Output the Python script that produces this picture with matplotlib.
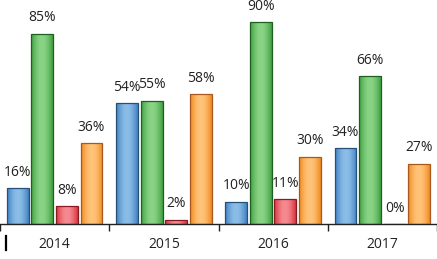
import matplotlib
matplotlib.use("Agg")
import matplotlib.pyplot as plt
import numpy as np
from matplotlib.colors import LinearSegmentedColormap
from matplotlib.lines import Line2D

years = ["2014", "2015", "2016", "2017"]
blue = [16, 54, 10, 34]
green = [85, 55, 90, 66]
red = [8, 2, 11, 0]
orange = [36, 58, 30, 27]
series = [blue, green, red, orange]
fills = [("#3f80c2", "#8cbde6"), ("#40a040", "#8ad486"), ("#d8343f", "#f58a90"), ("#f08a20", "#ffc47a")]
edges = ["#24507a", "#1f5f1f", "#8a1a22", "#a8581a"]

plt.rcParams['font.family'] = ['Open Sans', 'DejaVu Sans']
fig = plt.figure(figsize=(4.37, 2.59), dpi=100)
ax = fig.add_axes([0, 0.135, 1, 0.865])
ax.set_xlim(0, 4)
ax.set_ylim(0, 100)

slot = 0.225
width = 0.2
grad = np.linspace(0, 1, 64)
grad = np.sin(grad * np.pi)[None, :]
for si, vals in enumerate(series):
    cmap = LinearSegmentedColormap.from_list("c%d" % si, [fills[si][0], fills[si][1]])
    for gi, v in enumerate(vals):
        x = gi + 0.5 + (si - 1.5) * slot
        bars = ax.bar(x, v, width=width, color="none", edgecolor=edges[si], linewidth=0.9, zorder=3)
        if v > 0:
            im = ax.imshow(grad, cmap=cmap, aspect="auto",
                           extent=[x - width / 2, x + width / 2, 0, v], zorder=2, interpolation="bilinear")
            im.set_clip_path(bars[0])
        ax.annotate("%d%%" % v, (x, v), xytext=(0, 6), textcoords="offset points",
                    ha="center", va="bottom", fontsize=10, color="#222222", annotation_clip=False)

ax.set_xticks([0, 1, 2, 3, 4])
ax.set_xticklabels([])
ax.set_xticks([0.5, 1.5, 2.5, 3.5], minor=True)
ax.set_xticklabels(years, minor=True, fontsize=10, color="#222222")
ax.tick_params(axis="x", which="major", length=5, width=1, direction="out", color="#222222")
ax.tick_params(axis="x", which="minor", length=0, pad=9.5)
ax.set_yticks([])
for s in ["top", "right", "left"]:
    ax.spines[s].set_visible(False)
ax.spines["bottom"].set_color("#222222")
ax.spines["bottom"].set_linewidth(1)
ax.set_facecolor("none")

fig.add_artist(Line2D([5.5 / 437, 5.5 / 437], [1 - 250 / 259, 1 - 236 / 259],
                      transform=fig.transFigure, color="black", linewidth=1.6))

fig.savefig("out.png", dpi=100)
